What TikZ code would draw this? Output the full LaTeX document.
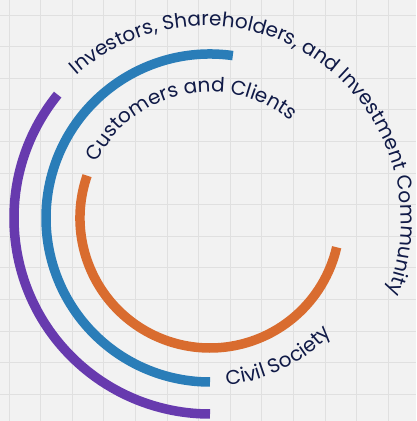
\documentclass[tikz,border=0pt]{standalone}
\usepackage{fontspec}
\newfontfamily\ringfont{Poppins}
\usetikzlibrary{decorations.text}

\definecolor{ringpurple}{HTML}{673AAE}
\definecolor{ringblue}{HTML}{2A7DB8}
\definecolor{ringorange}{HTML}{D96C2F}
\definecolor{textnavy}{HTML}{101A47}
\definecolor{boardgrey}{HTML}{F2F2F2}
\definecolor{gridgrey}{HTML}{E0E0E0}

\begin{document}
\begin{tikzpicture}[
    x=1pt, y=1pt,
    ring/.style={line width=9.5pt},
    gridline/.style={gridgrey, line width=0.8pt},
    ringtext/.style={decorate, decoration={text along path, text align=center,
        text={|\ringfont\fontsize{20}{24}\selectfont\color{textnavy}|#1}}}
]

% Board
\useasboundingbox (0,0) rectangle (416,421);
\fill[boardgrey] (0,0) rectangle (416,421);
\foreach \gx in {0,...,12}
    \draw[gridline] ({9+31.6*\gx},0) -- ++(0,421);
\foreach \gy in {0,...,12}
    \draw[gridline] (0,{406-31.6*\gy}) -- ++(416,0);

% Centres
\coordinate (hub) at (210,203);
\coordinate (outerhub) at (206,200);

% Rings
\draw[ring, ringpurple] (hub) ++(141:196) arc[start angle=141, end angle=270, radius=196];
\draw[ring, ringblue] (hub) ++(82:164) arc[start angle=82, end angle=270, radius=164];
\draw[ring, ringorange] (hub) ++(161:130) arc[start angle=161, end angle=347, radius=130];

% Labels
\path[ringtext={Investors, Shareholders, and Investment Community}]
    (outerhub) ++(159:195) arc[start angle=159, end angle=-49, radius=195];
\path[ringtext={Customers and Clients}]
    (hub) ++(175:126) arc[start angle=175, end angle=29, radius=126];
\path[ringtext={Civil Society}]
    (hub) ++(-114:168) arc[start angle=-114, end angle=-14, radius=168];

\end{tikzpicture}
\end{document}
